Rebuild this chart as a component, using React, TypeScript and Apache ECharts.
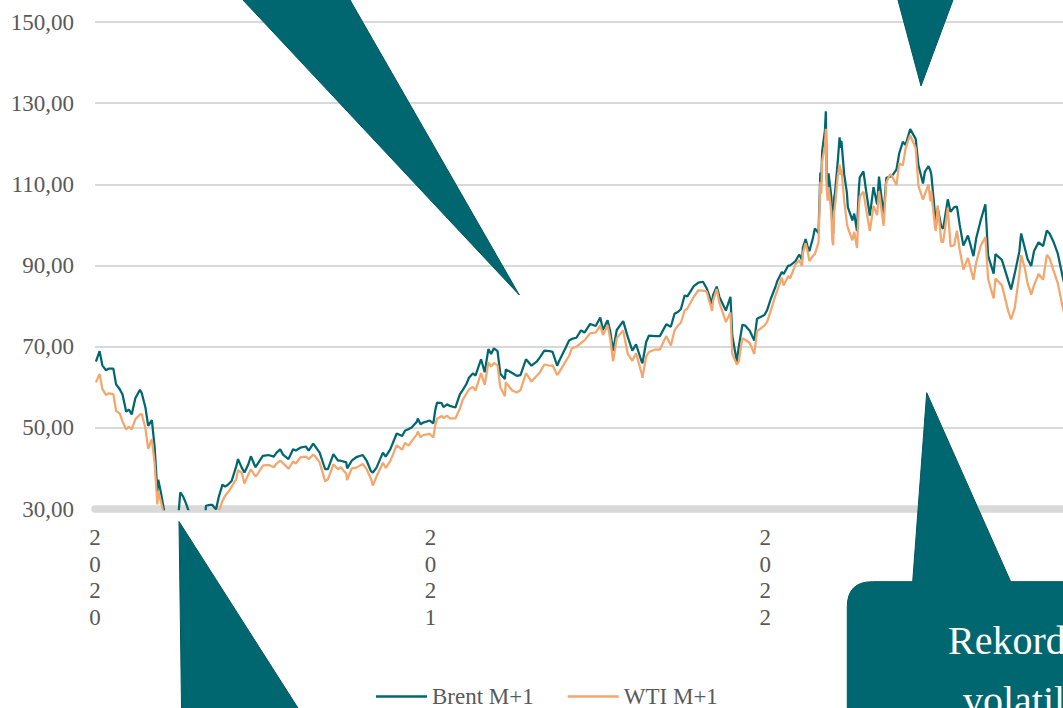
import React, { useEffect, useRef } from 'react';
import * as echarts from 'echarts';

// ---------- DATA ----------
const dates: string[] = [
  // 2020
  '2020-01-02','2020-01-06','2020-01-09','2020-01-13','2020-01-16','2020-01-21','2020-01-24','2020-01-28','2020-01-31',
  '2020-02-04','2020-02-07','2020-02-10','2020-02-14','2020-02-19','2020-02-21','2020-02-25','2020-02-28',
  '2020-03-03','2020-03-06','2020-03-09','2020-03-10','2020-03-13','2020-03-16','2020-03-18','2020-03-24','2020-03-30',
  '2020-04-03','2020-04-06','2020-04-09','2020-04-15','2020-04-20','2020-04-21','2020-04-24','2020-04-28',
  '2020-05-01','2020-05-05','2020-05-08','2020-05-12','2020-05-15','2020-05-19','2020-05-22','2020-05-26','2020-05-29',
  '2020-06-03','2020-06-05','2020-06-09','2020-06-12','2020-06-16','2020-06-19','2020-06-24','2020-06-26',
  '2020-07-02','2020-07-08','2020-07-14','2020-07-17','2020-07-21','2020-07-24','2020-07-30',
  '2020-08-04','2020-08-07','2020-08-12','2020-08-18','2020-08-21','2020-08-26','2020-08-28',
  '2020-09-02','2020-09-08','2020-09-11','2020-09-17','2020-09-22','2020-09-25',
  '2020-10-01','2020-10-02','2020-10-07','2020-10-12','2020-10-19','2020-10-23','2020-10-28','2020-10-30',
  '2020-11-03','2020-11-10','2020-11-13','2020-11-18','2020-11-25',
  '2020-12-01','2020-12-04','2020-12-08','2020-12-11','2020-12-17','2020-12-18','2020-12-21','2020-12-24','2020-12-31',
  // 2021
  '2021-01-04','2021-01-06','2021-01-08','2021-01-13','2021-01-15','2021-01-19','2021-01-22','2021-01-28',
  '2021-02-02','2021-02-05','2021-02-09','2021-02-12','2021-02-16','2021-02-19','2021-02-25',
  '2021-03-01','2021-03-05','2021-03-08','2021-03-11','2021-03-15','2021-03-18','2021-03-23','2021-03-24','2021-03-31',
  '2021-04-05','2021-04-09','2021-04-15','2021-04-21','2021-04-27','2021-04-30',
  '2021-05-05','2021-05-11','2021-05-14','2021-05-19','2021-05-21','2021-05-28',
  '2021-06-01','2021-06-04','2021-06-09','2021-06-14','2021-06-18','2021-06-24','2021-06-30',
  '2021-07-05','2021-07-08','2021-07-13','2021-07-16','2021-07-19','2021-07-23','2021-07-30',
  '2021-08-04','2021-08-09','2021-08-13','2021-08-19','2021-08-20','2021-08-24','2021-08-27',
  '2021-09-03','2021-09-08','2021-09-15','2021-09-20','2021-09-24','2021-09-28',
  '2021-10-01','2021-10-05','2021-10-08','2021-10-15','2021-10-20','2021-10-25','2021-10-29',
  '2021-11-04','2021-11-05','2021-11-09','2021-11-12','2021-11-19','2021-11-24','2021-11-26',
  '2021-12-01','2021-12-03','2021-12-07','2021-12-10','2021-12-15','2021-12-20','2021-12-23','2021-12-31',
  // 2022
  '2022-01-03','2022-01-07','2022-01-12','2022-01-14','2022-01-19','2022-01-21','2022-01-26','2022-01-28',
  '2022-02-03','2022-02-07','2022-02-10','2022-02-11','2022-02-14','2022-02-16','2022-02-18','2022-02-22','2022-02-24','2022-02-28',
  '2022-03-01','2022-03-02','2022-03-03','2022-03-04','2022-03-07','2022-03-08','2022-03-09','2022-03-10','2022-03-11',
  '2022-03-14','2022-03-15','2022-03-16','2022-03-17','2022-03-18','2022-03-21','2022-03-23','2022-03-24','2022-03-25',
  '2022-03-28','2022-03-31','2022-04-01','2022-04-06','2022-04-08','2022-04-11','2022-04-13','2022-04-14','2022-04-18',
  '2022-04-21','2022-04-25','2022-04-29','2022-05-03','2022-05-05','2022-05-10','2022-05-13','2022-05-17','2022-05-19',
  '2022-05-24','2022-05-27','2022-05-31','2022-06-03','2022-06-08','2022-06-14','2022-06-17','2022-06-22','2022-06-24',
  '2022-06-28','2022-06-30','2022-07-01','2022-07-05','2022-07-06','2022-07-08','2022-07-12','2022-07-14','2022-07-19',
  '2022-07-22','2022-07-26','2022-07-29','2022-08-01','2022-08-05','2022-08-10','2022-08-16','2022-08-19','2022-08-24',
  '2022-08-29','2022-09-01','2022-09-07','2022-09-09','2022-09-16','2022-09-23','2022-09-26','2022-09-30',
  '2022-10-05','2022-10-07','2022-10-11','2022-10-14','2022-10-18','2022-10-21','2022-10-26','2022-10-31',
  '2022-11-04','2022-11-07','2022-11-11','2022-11-16','2022-11-21','2022-11-25','2022-12-02',
];

const brent: number[] = [
  // 2020
  66.3,68.9,65.4,64.2,64.6,64.6,60.7,59.5,58.2,
  54.0,54.5,53.3,57.3,59.4,58.5,55.0,50.5,
  51.9,45.3,34.4,37.2,33.9,30.1,24.9,27.2,22.8,
  34.1,33.1,31.5,27.7,25.6,19.3,21.4,20.5,
  30.8,31.0,31.0,29.9,33.0,36.0,35.5,36.2,36.9,
  40.5,42.3,40.2,39.0,40.9,43.0,40.3,41.0,
  43.1,43.3,42.9,43.9,44.7,43.4,42.3,
  44.7,44.4,45.1,45.4,44.4,46.1,45.5,
  43.9,39.8,39.8,43.5,41.9,41.9,
  41.5,40.0,41.9,42.8,43.3,42.0,39.3,39.0,
  40.2,43.9,42.9,44.7,48.6,
  48.0,49.3,49.7,50.0,51.5,52.3,50.9,51.3,51.8,
  // 2021
  51.1,54.3,56.2,56.1,55.1,55.8,55.4,55.0,
  58.3,59.3,60.8,62.4,63.4,62.9,66.9,
  63.7,69.4,68.2,69.6,68.9,63.3,62.0,64.4,63.5,
  62.8,63.0,66.9,65.3,66.4,67.3,
  69.0,68.9,68.7,65.3,66.4,69.6,
  71.5,71.9,72.2,74.0,73.5,75.6,75.1,
  77.2,74.1,76.5,73.6,69.0,74.1,76.3,
  72.4,69.0,70.6,66.4,65.9,71.1,72.7,
  72.6,72.6,75.5,74.9,78.1,78.6,
  79.3,82.6,82.4,84.9,85.8,86.0,84.4,
  80.5,82.7,84.8,82.2,78.9,82.3,72.7,
  66.3,69.9,75.4,75.2,73.9,71.5,76.9,77.8,
  // 2022
  79.0,81.8,84.7,86.1,88.4,87.9,90.0,90.0,
  91.1,92.7,91.4,94.4,96.5,94.8,93.5,96.8,99.1,98.0,
  105.0,112.9,110.5,118.1,123.2,128.0,111.1,109.3,112.7,
  106.9,99.9,98.0,106.6,107.9,115.6,121.6,119.0,120.7,
  112.5,107.9,104.4,101.1,102.8,98.5,108.8,111.7,113.2,
  108.3,102.3,109.3,105.0,111.9,102.5,111.6,111.9,112.0,
  113.6,117.6,120.5,119.7,123.6,121.2,114.7,110.2,113.1,
  114.5,113.4,112.5,102.8,99.5,104.2,99.5,99.1,106.3,
  103.2,104.4,104.5,100.0,94.9,97.4,92.3,96.7,101.2,
  105.1,92.4,88.0,92.8,91.4,86.2,84.1,88.0,
  93.4,97.9,94.3,91.6,89.9,93.5,95.7,94.8,
  98.6,97.9,96.0,92.9,87.5,83.6,85.6,
];

const wti: number[] = [
  // 2020
  61.2,63.3,59.6,58.1,58.5,58.3,54.2,53.5,51.6,
  49.6,50.3,49.6,52.1,53.3,53.4,49.9,44.8,
  47.2,41.3,31.1,34.4,31.7,28.7,20.4,24.0,20.1,
  28.3,26.1,22.8,19.9,-37.6,10.0,17.0,12.3,
  19.8,24.6,24.7,25.8,29.4,32.0,33.3,34.4,35.5,
  37.3,39.6,38.9,36.3,38.4,39.8,38.0,38.5,
  40.7,40.9,40.3,41.2,41.9,41.3,39.9,
  41.7,41.2,42.7,42.9,42.3,43.4,43.0,
  41.5,36.8,37.3,41.0,39.8,40.3,
  38.7,37.1,40.0,40.2,41.1,39.9,37.4,35.8,
  38.0,41.4,40.1,41.8,45.7,
  44.6,46.3,45.6,46.6,48.4,49.1,47.7,48.2,48.5,
  // 2021
  47.6,50.6,52.2,52.9,52.4,53.0,52.3,52.3,
  54.8,56.9,58.4,59.5,60.1,59.2,63.5,
  60.6,66.1,65.1,66.0,65.4,60.0,57.8,61.2,59.2,
  58.7,59.3,63.5,61.4,62.9,63.6,
  65.6,65.3,65.4,63.0,63.6,66.3,
  67.7,69.6,70.0,70.9,71.6,73.3,73.5,
  75.2,72.9,75.3,71.8,66.4,72.1,74.0,
  68.2,66.5,68.4,63.5,62.3,67.5,68.7,
  69.3,69.3,72.6,70.3,74.0,75.3,
  75.9,78.9,79.4,82.3,83.9,83.8,83.6,
  78.8,81.3,84.2,80.8,76.1,78.4,68.2,
  65.6,66.3,72.1,71.7,70.9,68.2,73.8,75.2,
  // 2022
  76.1,78.9,82.6,83.8,87.0,85.1,87.4,86.8,
  90.3,91.3,89.9,93.1,95.5,93.7,91.1,92.4,92.8,95.7,
  103.4,110.6,107.7,115.7,119.4,123.7,108.7,106.0,109.3,
  103.0,96.4,95.0,103.0,104.7,112.1,114.9,112.3,113.9,
  106.0,100.3,99.3,96.2,98.3,94.3,104.3,107.0,108.2,
  103.8,98.5,104.7,102.4,108.3,99.8,110.5,112.4,112.2,
  109.8,115.1,114.7,118.9,122.1,118.9,109.6,106.2,107.6,
  110.0,105.8,108.4,99.5,98.5,104.8,95.8,95.8,104.2,
  94.7,95.0,98.6,93.9,89.0,91.9,86.5,90.8,94.9,
  97.0,86.6,81.9,86.8,85.1,78.7,76.7,79.5,
  87.8,92.6,89.4,85.6,82.8,85.1,87.9,86.5,
  92.6,91.8,89.0,85.6,80.0,76.3,80.0,
];

const seriesNames = ['Brent M+1', 'WTI M+1'];
const yMin = 30;
const yMax = 150;
const yInterval = 20;
const xStart = '2020-01-01';
const xEnd = '2023-01-01';
const xLabelDates = ['2020-01-01', '2021-01-01', '2022-01-01'];
const calloutLines = ['Rekordní', 'volatilita'];

// ---------- STYLE ----------
const TEAL = '#006770';
const TEAL_EDGE = '#00575f';
const ORANGE = '#F4A66C';
const GREY_TEXT = '#595959';
const GRID_GREY = '#d9d9d9';
const FONT = '"Liberation Serif", "Times New Roman", serif';

// day number since xStart (calendar days, UTC so no DST effects)
const dayOf = (s: string) => {
  const [y, m, d] = s.split('-').map(Number);
  const [y0, m0, d0] = xStart.split('-').map(Number);
  return Math.round((Date.UTC(y, m - 1, d) - Date.UTC(y0, m0 - 1, d0)) / 86400000);
};
const yearOfDay = (day: number) => {
  const [y0, m0, d0] = xStart.split('-').map(Number);
  return new Date(Date.UTC(y0, m0 - 1, d0) + Math.round(day) * 86400000).getUTCFullYear();
};

let registered = false;
function registerShapes() {
  if (registered) return;
  registered = true;
  echarts.graphic.registerShape(
    'calloutBox',
    echarts.graphic.extendPath(
      'M847.3 606.7 Q847.3 581.7 872.3 581.7 L912.7 581.7 L926.7 392.7 L1010.7 581.7 L1120 581.7 L1120 780 L847.3 780 Z',
      {}
    ) as any
  );
}

// the chart canvas is wider/taller than the visible window; the window crops it
const CANVAS_W = 1120;
const CANVAS_H = 720;

export default function App() {
  const ref = useRef<HTMLDivElement>(null);

  useEffect(() => {
    if (!ref.current) return;
    registerShapes();
    const chart = echarts.init(ref.current, null, { renderer: 'svg' });

    const brentData = dates.map((d, i) => [dayOf(d), brent[i]]);
    const wtiData = dates.map((d, i) => [dayOf(d), wti[i]]);

    const shapeStyle = { fill: TEAL, stroke: TEAL_EDGE, lineWidth: 1 };

    const option: any = {
      animation: false,
      backgroundColor: '#ffffff',
      textStyle: { fontFamily: FONT },
      grid: { left: 95, top: 22, width: 1005, height: 487, containLabel: false },
      xAxis: {
        type: 'value',
        min: 0,
        max: dayOf(xEnd),
        axisLine: { show: true, onZero: false, lineStyle: { color: GRID_GREY, width: 7.5 } },
        axisTick: { show: false },
        splitLine: { show: false },
        axisLabel: {
          customValues: xLabelDates.map(dayOf),
          showMinLabel: true,
          showMaxLabel: true,
          hideOverlap: false,
          margin: 15,
          color: GREY_TEXT,
          fontFamily: FONT,
          fontSize: 23,
          lineHeight: 26.7,
          formatter: (v: number) => String(yearOfDay(v)).split('').join('\n'),
        },
      },
      yAxis: {
        type: 'value',
        min: yMin,
        max: yMax,
        interval: yInterval,
        axisLine: { show: false },
        axisTick: { show: false },
        splitLine: { show: true, lineStyle: { color: GRID_GREY, width: 2 } },
        axisLabel: {
          margin: 21,
          color: GREY_TEXT,
          fontFamily: FONT,
          fontSize: 23,
          formatter: (v: number) => v.toFixed(2).replace('.', ','),
        },
      },
      legend: {
        data: seriesNames,
        left: 371,
        top: 680,
        icon: 'rect',
        itemWidth: 51,
        itemHeight: 2.5,
        itemGap: 34,
        textStyle: { color: GREY_TEXT, fontFamily: FONT, fontSize: 23 },
      },
      series: [
        {
          name: seriesNames[0],
          type: 'line',
          data: brentData,
          symbol: 'none',
          clip: true,
          lineStyle: { color: TEAL, width: 2.25 },
          itemStyle: { color: TEAL },
          z: 3,
        },
        {
          name: seriesNames[1],
          type: 'line',
          data: wtiData,
          symbol: 'none',
          clip: true,
          lineStyle: { color: ORANGE, width: 2.25 },
          itemStyle: { color: ORANGE },
          z: 4,
        },
      ],
      graphic: [
        { type: 'polygon', z: 100, shape: { points: [[233.6, -10], [344.3, -10], [519.3, 295]] }, style: shapeStyle },
        { type: 'polygon', z: 100, shape: { points: [[895.3, -10], [956.7, -10], [921, 86]] }, style: shapeStyle },
        { type: 'polygon', z: 100, shape: { points: [[179, 521.5], [181.7, 720], [305.6, 720]] }, style: shapeStyle },
        { type: 'calloutBox', z: 100, x: 0, y: 0, style: shapeStyle },
        {
          type: 'text', z: 101, x: 948, y: 640.5,
          style: { text: calloutLines[0], fill: '#ffffff', font: `40px ${FONT}`, textAlign: 'left', textVerticalAlign: 'middle' },
        },
        {
          type: 'text', z: 101, x: 963, y: 700.5,
          style: { text: calloutLines[1], fill: '#ffffff', font: `40px ${FONT}`, textAlign: 'left', textVerticalAlign: 'middle' },
        },
      ],
    };

    chart.setOption(option);
    return () => chart.dispose();
  }, []);

  return (
    <div style={{ position: 'fixed', left: 0, top: 0, width: 1063, height: 708, overflow: 'hidden', background: '#fff' }}>
      <div ref={ref} style={{ width: CANVAS_W, height: CANVAS_H }} />
    </div>
  );
}
